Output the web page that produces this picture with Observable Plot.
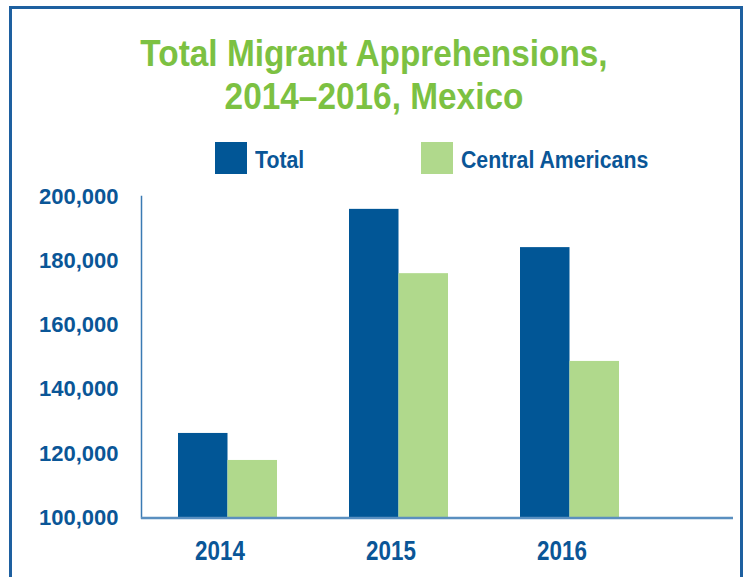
<!DOCTYPE html>
<html>
<head>
<meta charset="utf-8">
<script src="https://cdn.jsdelivr.net/npm/d3@7"></script>
<script src="https://cdn.jsdelivr.net/npm/@observablehq/plot@0.6"></script>
<style>
  html, body { margin: 0; padding: 0; background: #fff; }
  body { width: 744px; height: 577px; position: relative; overflow: hidden; font-family: "Liberation Sans", Arial, sans-serif; }
  #border { position: absolute; left: 9px; top: 6px; width: 734px; height: 700px; border: 3px solid #1e60a0; box-sizing: border-box; }
  #title { position: absolute; left: 0; top: 32px; width: 748px; text-align: center; color: #7cc142; font-weight: bold; font-size: 37.5px; line-height: 43px; transform: scaleX(0.89); transform-origin: 374px 0; }
  .sw { position: absolute; width: 32px; height: 32px; }
  .lt { position: absolute; color: #0a5697; font-weight: bold; font-size: 23px; line-height: 24px; white-space: nowrap; transform: scaleX(0.925); transform-origin: 0 0; }
  #chart { position: absolute; left: 0; top: 180px; }
</style>
</head>
<body>
<div id="border"></div>
<div id="title">Total Migrant Apprehensions,<br>2014–2016, Mexico</div>
<div id="legend"></div>
<div id="chart"></div>
<script>
// ---- data ----
const years = ["2014", "2015", "2016"];
const total = [126300, 196000, 184100];
const centralAmericans = [117900, 176000, 148700];
const seriesNames = ["Total", "Central Americans"];
const yTicks = [100000, 120000, 140000, 160000, 180000, 200000];

// ---- styles ----
const colors = ["#015696", "#b0d98c"];
const textBlue = "#0a5697";
const base = yTicks[0];

const rows = years.map((year, i) => ({year, total: total[i], ca: centralAmericans[i]}));

// legend built from series names/colors
const legend = document.getElementById("legend");
const legendPos = [{sx: 215, tx: 255}, {sx: 421, tx: 461}];
seriesNames.forEach((name, i) => {
  const sw = document.createElement("div");
  sw.className = "sw";
  sw.style.left = legendPos[i].sx + "px";
  sw.style.top = "142px";
  sw.style.background = colors[i];
  legend.appendChild(sw);
  const t = document.createElement("div");
  t.className = "lt";
  t.style.left = legendPos[i].tx + "px";
  t.style.top = "148px";
  t.textContent = name;
  legend.appendChild(t);
});

const half = 49.5;
const chart = Plot.plot({
  width: 744,
  height: 397,
  marginLeft: 141,
  marginRight: 11,
  marginTop: 16,
  marginBottom: 59.5,
  style: {fontFamily: "Liberation Sans, Arial, sans-serif", background: "transparent"},
  x: {type: "band", domain: years, paddingInner: 0.423, paddingOuter: 0.437, align: 0.247},
  y: {domain: [yTicks[0], yTicks[yTicks.length - 1]]},
  marks: [
    Plot.barY(rows, {x: "year", y1: () => base, y2: "total", fill: colors[0], insetRight: half}),
    Plot.barY(rows, {x: "year", y1: () => base, y2: "ca", fill: colors[1], insetLeft: half}),
    Plot.axisY(yTicks, {tickSize: 0, tickPadding: 23, tickFormat: d3.format(","), fontSize: 22, fontWeight: "bold", color: textBlue, label: null}),
    Plot.axisX({tickSize: 0, tickPadding: 22, fontSize: 28, fontWeight: "bold", color: textBlue, dx: -8, label: null}),
    Plot.frame({anchor: "left", stroke: "#3a7ab3", strokeWidth: 1.5}),
    Plot.ruleY([base], {stroke: "#5a8fc0", strokeWidth: 2.5})
  ]
});
document.getElementById("chart").appendChild(chart);
// condense the year labels to match the narrow face of the original
chart.querySelectorAll('[aria-label="x-axis tick label"] text').forEach(t => {
  const w = t.getComputedTextLength();
  t.setAttribute("textLength", (w * 0.8).toFixed(1));
  t.setAttribute("lengthAdjust", "spacingAndGlyphs");
});
</script>
</body>
</html>
